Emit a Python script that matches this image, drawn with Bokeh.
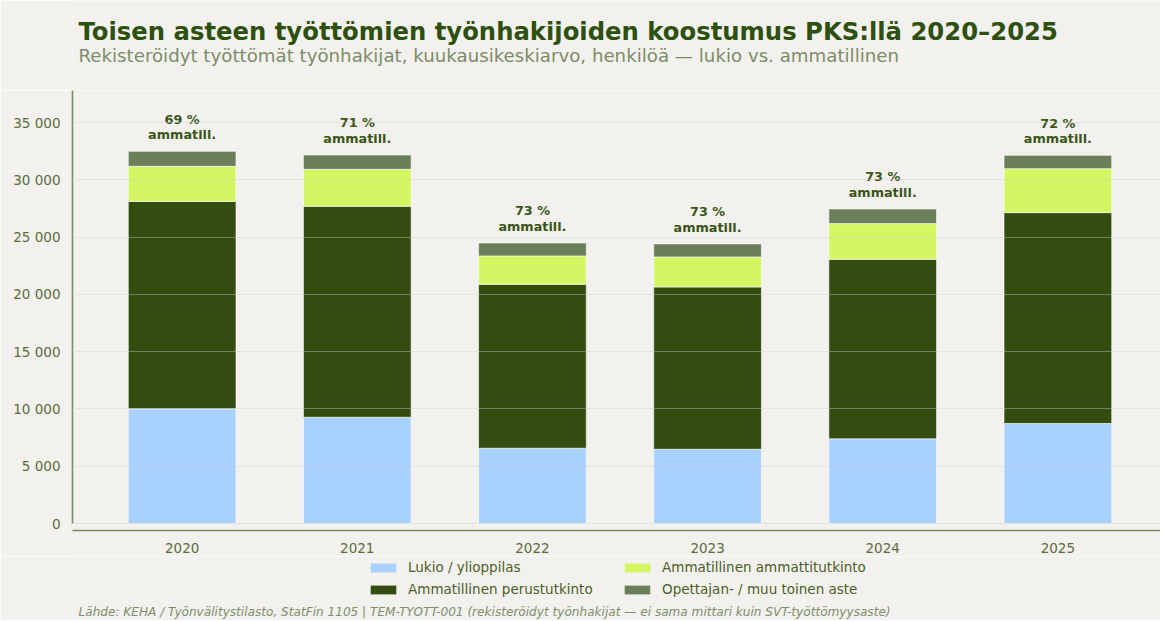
from bokeh.plotting import figure
from bokeh.layouts import column
from bokeh.models import ColumnDataSource, Range1d, FixedTicker, Legend, LegendItem, Label
from bokeh.embed import file_html
from bokeh.resources import INLINE
from bokeh.core.properties import value

years = ["2020", "2021", "2022", "2023", "2024", "2025"]
lukio = [10010, 9280, 6570, 6480, 7390, 8730]
perus = [18110, 18410, 14310, 14170, 15670, 18410]
ammatti = [3060, 3230, 2480, 2620, 3120, 3840]
muu = [1310, 1250, 1130, 1140, 1280, 1160]
share_pct = [69, 71, 73, 73, 73, 72]
series_names = ["Lukio / ylioppilas", "Ammatillinen perustutkinto",
                "Ammatillinen ammattitutkinto", "Opettajan- / muu toinen aste"]
y_ticks = [0, 5000, 10000, 15000, 20000, 25000, 30000, 35000]

TITLE = "Toisen asteen työttömien työnhakijoiden koostumus PKS:llä 2020–2025"
SUBTITLE = "Rekisteröidyt työttömät työnhakijat, kuukausikeskiarvo, henkilöä — lukio vs. ammatillinen"
FOOTER = ("Lähde: KEHA / Työnvälitystilasto, StatFin 1105 | TEM-TYOTT-001 "
          "(rekisteröidyt työnhakijat — ei sama mittari kuin SVT-työttömyysaste)")

colors = ["#a8d1fe", "#334d10", "#d4f663", "#6b7f5a"]
BG = "#f2f1ee"
FONT = "DejaVu Sans"
LEFT = 72
FW = 1088

xs = list(range(len(years)))
totals = [a + b + c + d for a, b, c, d in zip(lukio, perus, ammatti, muu)]
labels = ["%d %%\nammatill." % s for s in share_pct]

src = ColumnDataSource(dict(x=xs, lukio=lukio, perus=perus, ammatti=ammatti, muu=muu,
                            total=totals, label=labels))


def blank_fig(h):
    # frame aligned with the main chart; x in page pixels, y in pixels from bottom
    f = figure(frame_width=FW, frame_height=h, output_backend="svg", toolbar_location=None,
               x_range=Range1d(LEFT, LEFT + FW), y_range=Range1d(0, h),
               background_fill_color=BG, border_fill_color=BG, outline_line_color=None,
               min_border_left=LEFT, min_border_right=0, min_border_top=0,
               min_border_bottom=0)
    f.axis.visible = False
    f.grid.visible = False
    return f


# ---- header (title + subtitle)
head = blank_fig(90)
head.add_layout(Label(x=78, y=90 - 31, text=TITLE, text_font=FONT, text_font_style="bold",
                      text_font_size="24.3px", text_color="#2e500f", text_baseline="middle"))
head.add_layout(Label(x=78, y=90 - 55, text=SUBTITLE, text_font=FONT,
                      text_font_size="18.2px", text_color="#7d8c68", text_baseline="middle"))

# ---- main chart
p = figure(frame_width=FW, frame_height=440, output_backend="svg", toolbar_location=None,
           x_range=Range1d(-0.626, 5.586), y_range=Range1d(-610, 37800),
           background_fill_color=BG, border_fill_color=BG,
           outline_line_color=None, min_border_left=LEFT, min_border_right=0,
           min_border_top=0, min_border_bottom=26)

stack_cols = ["lukio", "perus", "ammatti", "muu"]
renderers = p.vbar_stack(stack_cols, x="x", width=0.615, source=src, color=colors,
                         line_color="white", line_alpha=0.6, line_width=1)

p.text(x="x", y="total", text="label", source=src, text_align="center",
       text_baseline="bottom", y_offset=-9, text_font=value(FONT),
       text_font_style="bold", text_font_size="12.8px", text_color="#3a5518",
       text_line_height=1.05)

p.xaxis.ticker = FixedTicker(ticks=xs)
p.xaxis.major_label_overrides = {i: y for i, y in enumerate(years)}
p.yaxis.ticker = FixedTicker(ticks=y_ticks)
p.yaxis.major_label_overrides = {t: ("{:,}".format(t).replace(",", " ")) for t in y_ticks}
p.yaxis.bounds = (0, 37800)
for ax in (p.xaxis, p.yaxis):
    ax.major_tick_line_color = None
    ax.minor_tick_line_color = None
    ax.major_label_text_font = FONT
    ax.major_label_text_font_size = "13.5px"
    ax.major_label_text_color = "#5a6c3c"
    ax.axis_line_color = "#7a8c5e"
    ax.axis_line_width = 1.6
p.xaxis.major_label_standoff = 6
p.yaxis.major_label_standoff = 6

p.xgrid.grid_line_color = None
p.ygrid.ticker = FixedTicker(ticks=y_ticks)
p.ygrid.grid_line_color = "#cccccc"
p.ygrid.grid_line_alpha = 0.4
p.ygrid.grid_line_width = 1
p.ygrid.level = "overlay"

# ---- legend + footer strip
LH = 64
bot = blank_fig(LH)
dummies = [bot.vbar(x=[-5000], top=[-5000], bottom=[-5001], width=1, fill_color=c,
                    line_color=None) for c in colors]
items = [LegendItem(label=series_names[i], renderers=[dummies[i]]) for i in range(4)]
legend = Legend(items=items, orientation="vertical", nrows=2,
                location=(367 - LEFT, 23), background_fill_alpha=0, border_line_color=None,
                label_text_font=FONT, label_text_font_size="13.5px",
                label_text_color="#4a6028", glyph_width=32, glyph_height=11,
                label_height=16, label_width=207, label_standoff=9, spacing=6,
                padding=0, margin=0)
bot.add_layout(legend)
bot.add_layout(Label(x=78, y=LH - (611 - 556), text=FOOTER, text_font=FONT,
                     text_font_style="italic", text_font_size="12.1px",
                     text_color="#808e6c", text_baseline="middle"))

layout = column(head, p, bot, spacing=0)
open("out.html", "w").write(file_html(layout, INLINE))
